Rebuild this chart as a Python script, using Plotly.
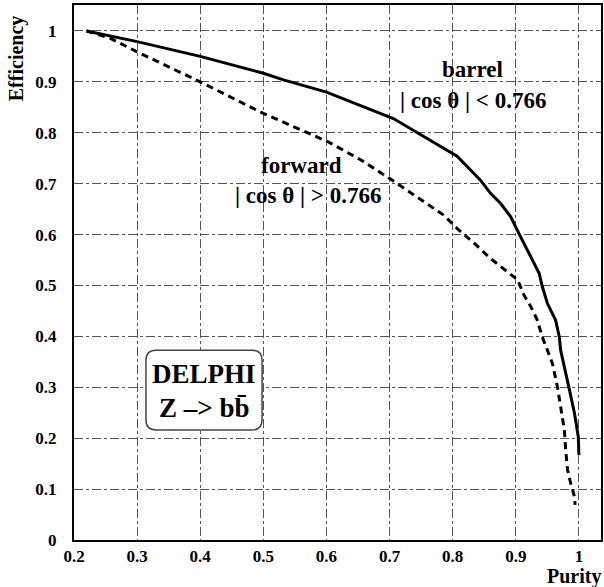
import plotly.graph_objects as go

# Barrel (|cos theta| < 0.766) - solid
barrel_purity = [0.22, 0.30, 0.40, 0.50, 0.532, 0.60, 0.706, 0.807, 0.844, 0.860, 0.876,
                 0.892, 0.905, 0.924, 0.937, 0.942, 0.950, 0.963, 0.969, 0.971, 0.977,
                 0.985, 0.993, 0.999, 1.0]
barrel_eff = [1.0, 0.979, 0.950, 0.917, 0.904, 0.880, 0.828, 0.754, 0.707, 0.681, 0.661,
              0.635, 0.602, 0.556, 0.524, 0.498, 0.465, 0.432, 0.399, 0.373, 0.337,
              0.295, 0.249, 0.203, 0.167]

# Forward (|cos theta| > 0.766) - dashed
forward_purity = [0.22, 0.257, 0.30, 0.40, 0.50, 0.559, 0.603, 0.654, 0.704, 0.754, 0.786,
                  0.807, 0.834, 0.860, 0.887, 0.903, 0.913, 0.924, 0.934, 0.942, 0.958,
                  0.966, 0.971, 0.977, 0.979, 0.982, 0.987, 0.993, 0.994]
forward_eff = [1.0, 0.986, 0.959, 0.900, 0.838, 0.806, 0.782, 0.747, 0.707, 0.665, 0.638,
               0.612, 0.583, 0.553, 0.527, 0.511, 0.481, 0.458, 0.432, 0.399, 0.347,
               0.301, 0.262, 0.216, 0.177, 0.138, 0.111, 0.085, 0.069]

x_ticks = [0.2, 0.3, 0.4, 0.5, 0.6, 0.7, 0.8, 0.9, 1.0]
x_ticklabels = ["0.2", "0.3", "0.4", "0.5", "0.6", "0.7", "0.8", "0.9", "1"]
y_ticks = [0, 0.1, 0.2, 0.3, 0.4, 0.5, 0.6, 0.7, 0.8, 0.9, 1.0]
y_ticklabels = ["0", "0.1", "0.2", "0.3", "0.4", "0.5", "0.6", "0.7", "0.8", "0.9", "1"]

SERIF = "Liberation Serif"

fig = go.Figure()
fig.add_trace(go.Scatter(x=barrel_purity, y=barrel_eff, mode="lines",
                         line=dict(color="black", width=3), showlegend=False))
fig.add_trace(go.Scatter(x=forward_purity, y=forward_eff, mode="lines",
                         line=dict(color="black", width=3, dash="7px,5px"), showlegend=False))

grid = dict(showgrid=True, gridcolor="#555555", gridwidth=1, griddash="dashdot")
axfont = dict(family=SERIF, size=17, color="black", weight="bold")

fig.update_xaxes(range=[0.2, 1.035], tickvals=x_ticks, ticktext=x_ticklabels,
                 showline=True, linecolor="black", linewidth=2, mirror=True,
                 zeroline=False, ticks="", tickfont=axfont, **grid)
fig.update_yaxes(range=[0, 1.051], tickvals=y_ticks, ticktext=y_ticklabels,
                 showline=True, linecolor="black", linewidth=2, mirror=True,
                 zeroline=False, ticks="", tickfont=axfont, ticklabelstandoff=12, **grid)

# Rounded box for DELPHI label
x0, x1, y0, y1 = 0.314, 0.498, 0.216, 0.373
rx, ry = 0.016, 0.02
path = (f"M {x0+rx},{y0} L {x1-rx},{y0} Q {x1},{y0} {x1},{y0+ry} "
        f"L {x1},{y1-ry} Q {x1},{y1} {x1-rx},{y1} L {x0+rx},{y1} "
        f"Q {x0},{y1} {x0},{y1-ry} L {x0},{y0+ry} Q {x0},{y0} {x0+rx},{y0} Z")
fig.add_shape(type="path", path=path, xref="x", yref="y",
              line=dict(color="#444444", width=1.5), fillcolor="white", layer="above")

tfont = dict(family=SERIF, size=23, color="black", weight="bold")
bigfont = dict(family=SERIF, size=27, color="black", weight="bold")

fig.add_annotation(x=0.832, y=0.925, xref="x", yref="y", text="barrel",
                   showarrow=False, font=tfont)
fig.add_annotation(x=0.832, y=0.864, xref="x", yref="y", text="| cos θ | < 0.766",
                   showarrow=False, font=tfont)
fig.add_annotation(x=0.561, y=0.735, xref="x", yref="y", text="forward",
                   showarrow=False, font=tfont)
fig.add_annotation(x=0.571, y=0.677, xref="x", yref="y", text="| cos θ | > 0.766",
                   showarrow=False, font=tfont)
fig.add_annotation(x=0.406, y=0.327, xref="x", yref="y", text="DELPHI",
                   showarrow=False, font=bigfont)
fig.add_annotation(x=0.406, y=0.259, xref="x", yref="y", text="Z –> bb\u0304",
                   showarrow=False, font=bigfont)

W, H = 604, 587
ML, MR, MT, MB = 74, 1, 5, 47
pw, ph = W - ML - MR, H - MT - MB

fig.add_annotation(x=(604 - ML) / pw, y=(H - MB - 576) / ph, xref="paper", yref="paper",
                   text="Purity", showarrow=False, borderpad=0,
                   font=dict(family=SERIF, size=20, color="black", weight="bold"),
                   xanchor="right", yanchor="middle")
fig.add_annotation(x=(17 - ML) / pw, y=(H - MB - 13) / ph, xref="paper", yref="paper",
                   text="Efficiency", textangle=-90, showarrow=False,
                   xanchor="center", yanchor="top",
                   font=dict(family=SERIF, size=20, color="black", weight="bold"))

fig.update_layout(
    width=W, height=H,
    margin=dict(l=ML, r=MR, t=MT, b=MB),
    plot_bgcolor="white", paper_bgcolor="white",
    showlegend=False,
)

fig.write_html("out.html", config={"displayModeBar": False},
               post_script="document.body.style.margin='0';")
